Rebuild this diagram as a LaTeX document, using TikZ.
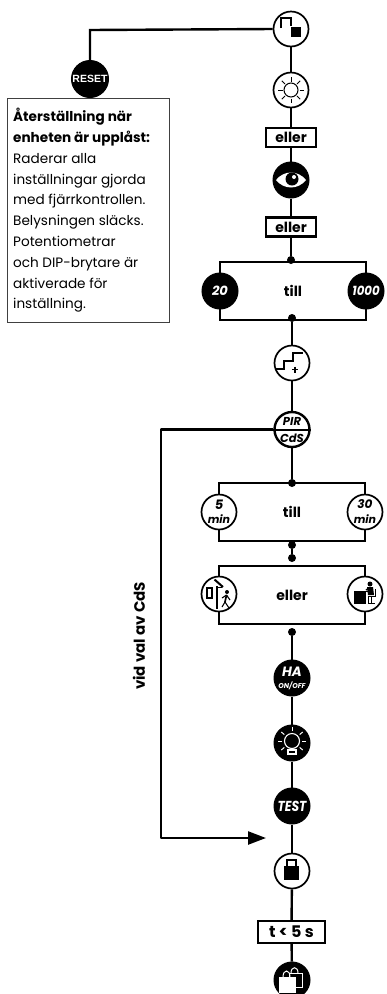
\documentclass[tikz,border=0pt]{standalone}
\usepackage{fontspec}
\usepackage{graphicx}
\usetikzlibrary{arrows.meta}
\setmainfont{Poppins}
\newfontfamily\arialf{Liberation Sans}
\tikzset{
  conn/.style={line width=2.4pt,draw=black},
  wcirc/.style={circle,draw=black,fill=white,line width=1.7pt,minimum size=35pt,inner sep=0pt,font=\itshape\bfseries\fontsize{11}{11}\selectfont,align=center},
  bcirc/.style={circle,draw=black,fill=black,line width=1pt,minimum size=36pt,inner sep=0pt,text=white,font=\itshape\bfseries\fontsize{13}{13}\selectfont,align=center},
  jdot/.style={circle,fill=black,minimum size=8pt,inner sep=0pt},
  tag/.style={draw=black,fill=white,line width=2.4pt,inner sep=0pt,font=\bfseries\fontsize{14}{14}\selectfont},
  frame/.style={draw=black,fill=white,line width=2.2pt,inner sep=0pt,font=\bfseries\fontsize{14}{14}\selectfont},
  icon/.style={line width=1pt,draw=black},
}
\begin{document}
\begin{tikzpicture}[x=1pt,y=-1pt]
\useasboundingbox (0,0) rectangle (386,994);
% frames first
\node[frame,minimum width=146pt,minimum height=58pt] (fa) at (293,291) {till};
\node[frame,minimum width=146pt,minimum height=58pt] (fb) at (292,512) {till};
\node[frame,minimum width=146pt,minimum height=58pt] (fc) at (292,595) {eller};
% text box
\node[draw=black!75,fill=white,line width=0.9pt,minimum width=162pt,minimum height=224pt,inner sep=0pt] (note) at (88,210) {};
\node[anchor=north west,inner sep=0pt,align=left,font=\fontsize{13.6}{20.8}\selectfont] (notetext) at (13,108) {\bfseries Återställning när\\ \bfseries enheten är upplåst:\\ Raderar alla\\ inställningar gjorda\\ med fjärrkontrollen.\\ Belysningen släcks.\\ Potentiometrar\\ och DIP-brytare är\\ aktiverade för\\ inställning.};
% circles
\node[wcirc] (unlock) at (291,29) {};
\node[bcirc,minimum size=37pt,font=\arialf\bfseries\fontsize{10.5}{9}\selectfont,text=white] (reset) at (90,79) {RESET};
\node[wcirc] (sun) at (291,90) {};
\node[tag,minimum width=50pt,minimum height=19pt] (or1) at (291,137.5) {eller};
\node[bcirc] (eye) at (291,180) {};
\node[tag,minimum width=50pt,minimum height=19pt] (or2) at (291,227) {eller};
\node[jdot] (d1) at (291,260) {};
\node[bcirc] (c20) at (220,291) {20};
\node[bcirc] (c1000) at (366,291) {\scalebox{.9}[1]{1000}};
\node[jdot] (d2) at (292,318) {};
\node[wcirc] (steps) at (292,363) {};
\node[wcirc,line width=2.4pt] (pir) at (292,429.5) {};
\node[jdot] (d3) at (292,483) {};
\node[wcirc] (c5) at (219,512) {};
\node[wcirc] (c30) at (365,512) {};
\node[inner sep=0pt,font=\itshape\bfseries\fontsize{13}{13}\selectfont] (c5top) at (219,504.5) {5};
\node[inner sep=0pt,font=\itshape\bfseries\fontsize{11}{11}\selectfont] (c5bot) at (219,519) {min};
\node[inner sep=0pt,font=\itshape\bfseries\fontsize{12}{12}\selectfont] (c30top) at (365,504.5) {30};
\node[inner sep=0pt,font=\itshape\bfseries\fontsize{11}{11}\selectfont] (c30bot) at (365,519) {min};
\node[jdot] (d4) at (292,545) {};
\node[jdot] (d5) at (292,558) {};
\node[wcirc] (door) at (219,594) {};
\node[wcirc] (desk) at (365,594) {};
\node[jdot] (d6) at (292,632) {};
\node[bcirc] (ha) at (292,678) {};
\node[bcirc] (bulb) at (292,743) {};
\node[bcirc,font=\itshape\bfseries\fontsize{14.5}{14}\selectfont] (test) at (292,806) {\scalebox{.85}[1]{TEST}};
\node[wcirc] (lock) at (292,871) {};
\node[tag,minimum width=67pt,minimum height=22pt,font=\bfseries\fontsize{16}{16}\selectfont] (t5) at (291.5,932) {t < 5 s};
\node[bcirc] (bag) at (292,980) {};
\coordinate (b1) at (90,30);
\coordinate (b2) at (161,429.5);
\coordinate (b3) at (161,838);
\coordinate (arrowend) at (266,838);
% connectors
\draw[conn] (unlock.west) -- (b1) -- (reset.north);
\draw[conn] (unlock) -- (sun);
\draw[conn] (sun) -- (or1);
\draw[conn] (or1) -- (eye);
\draw[conn] (eye) -- (or2);
\draw[conn] (or2) -- (d1);
\draw[conn] (d2) -- (steps);
\draw[conn] (steps) -- (pir);
\draw[conn] (pir) -- (d3);
\draw[conn] (d4) -- (d5);
\draw[conn] (d6) -- (ha);
\draw[conn] (ha) -- (bulb);
\draw[conn] (bulb) -- (test);
\draw[conn] (test) -- (lock);
\draw[conn] (lock) -- (t5);
\draw[conn] (t5) -- (bag);
\draw[conn,line join=round,-{Triangle[length=18pt,width=13pt]}] (pir.west) -- (b2) -- (b3) -- (arrowend);
% PIR
\draw[line width=2pt] (pir.west) -- (pir.east);
\node[inner sep=0pt,font=\itshape\bfseries\fontsize{11.5}{11.5}\selectfont] (pirtop) at (292,421.5) {PIR};
\node[inner sep=0pt,font=\itshape\bfseries\fontsize{11.5}{11.5}\selectfont] (pirbot) at (292,438.5) {CdS};
% HA
\node[inner sep=0pt,text=white,font=\itshape\bfseries\fontsize{13.5}{13.5}\selectfont] (hatop) at (292,672) {HA};
\node[inner sep=0pt,text=white,font=\itshape\bfseries\fontsize{7}{7}\selectfont] (habot) at (292,685.5) {ON/OFF};
% rotated label
\node[rotate=90,inner sep=0pt,font=\bfseries\fontsize{15}{15}\selectfont] (vid) at (139,636) {vid val av CdS};
% unlock icon
\begin{scope}[shift={(unlock.center)}]
  \draw[line width=1.6pt] (-10,-1) -- (-10,-11) -- (0,-11) -- (0,-3);
  \fill (0,-2.3) rectangle (9.5,7.7);
\end{scope}
% sun icon
\begin{scope}[shift={(sun.center)}]
  \draw[icon] (0,0) circle (7);
  \foreach \a in {0,45,...,315} \draw[icon] (\a:8.5) -- (\a:13);
\end{scope}
% eye icon
\begin{scope}[shift={(eye.center)}]
  \fill[white] (-15,0) .. controls (-7,-10) and (7,-10) .. (15,0) .. controls (7,10) and (-7,10) .. (-15,0) -- cycle;
  \fill[black] (1,-1) circle (6.5);
  \fill[white] (3,-3) circle (2);
\end{scope}
% steps icon
\begin{scope}[shift={(steps.center)}]
  \draw[line width=1.9pt] (-16,6) -- (-8,6) -- (-8,-2) -- (1,-2) -- (1,-10) -- (11,-10);
  \draw[line width=1.1pt] (0,6.5) -- (6,6.5) (3,3.5) -- (3,9.5);
\end{scope}
% door icon
\begin{scope}[shift={(door.center)}]
  \draw[line width=1.1pt] (-12,-6) rectangle (-7,4);
  \fill (-3.5,-8) rectangle (-1,15);
  \draw[line width=2pt] (-4.5,-14.5) -- (4,-7);
  \draw[line width=0.9pt] (-3,-7) -- (3,-7);
  \fill (8,-2) circle (2);
  \draw[line width=1.7pt] (7.5,1) -- (6,8);
  \draw[line width=1.1pt] (6,8) -- (3,13) (6,8) -- (10,14) (7.5,1) -- (11,6) (7.5,1) -- (3,4);
\end{scope}
% desk icon
\begin{scope}[shift={(desk.center)}]
  \fill (-11,-3) rectangle (1,10);
  \draw[line width=1pt] (-11,-3) -- (5,-3);
  \fill (5,-10) circle (2.5);
  \fill (2,-7) -- (8,-7) -- (9,1) -- (3,1) -- cycle;
  \draw[line width=1.3pt] (1,-4) -- (4,-6);
  \draw[line width=1pt] (10.5,-5) -- (10.5,2) -- (3,2) (6,2) -- (6,9) (3,9) -- (10,9) (3,2) -- (3,9);
\end{scope}
% bulb icon
\begin{scope}[shift={(bulb.center)}]
  \draw[white,line width=1.1pt] (0,-2) circle (7.5);
  \draw[white,line width=1.1pt] (-4,7) rectangle (4,11);
  \foreach \a in {-90,-40,-140,0,180,40,140}
    \draw[white,line width=1pt] ([shift={(0,-2)}]\a:10) -- ([shift={(0,-2)}]\a:14);
\end{scope}
% lock icon
\begin{scope}[shift={(lock.center)}]
  \fill (-8,-5) rectangle (7,9);
  \draw[line width=1.4pt] (-5,-5) -- (-5,-11) -- (4,-11) -- (4,-5);
\end{scope}
% bag icon
\begin{scope}[shift={(bag.center)}]
  \draw[white,line width=1pt] (-3,-7) rectangle (10,7);
  \draw[white,line width=1pt] (-1,-7) .. controls (-1,-14) and (6,-14) .. (6,-7);
  \fill[white] (-13,-3) rectangle (4,13);
  \draw[white,line width=1pt] (-9,-3) .. controls (-9,-11) and (-2,-11) .. (-2,-3);
\end{scope}
\end{tikzpicture}
\end{document}
